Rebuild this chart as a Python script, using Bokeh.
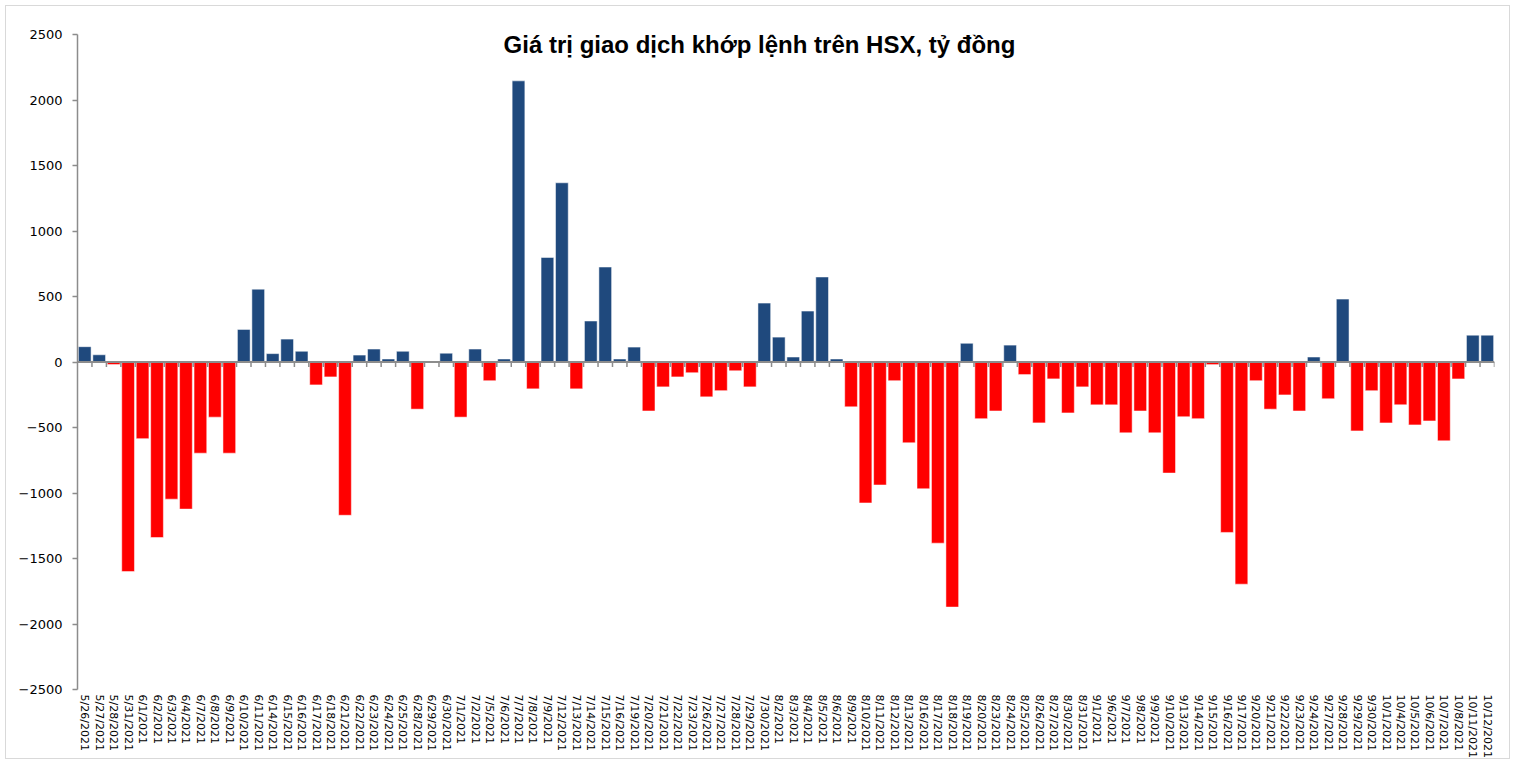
from bokeh.plotting import figure
from bokeh.models import FactorRange, Range1d, FixedTicker, Span, Label, ColumnDataSource
from bokeh.embed import file_html
from bokeh.resources import INLINE
from bokeh.core.properties import value

title_text = "Giá trị giao dịch khớp lệnh trên HSX, tỷ đồng"

dates = [
    "5/26/2021", "5/27/2021", "5/28/2021", "5/31/2021",
    "6/1/2021", "6/2/2021", "6/3/2021", "6/4/2021", "6/7/2021", "6/8/2021", "6/9/2021",
    "6/10/2021", "6/11/2021", "6/14/2021", "6/15/2021", "6/16/2021", "6/17/2021", "6/18/2021",
    "6/21/2021", "6/22/2021", "6/23/2021", "6/24/2021", "6/25/2021", "6/28/2021", "6/29/2021",
    "6/30/2021",
    "7/1/2021", "7/2/2021", "7/5/2021", "7/6/2021", "7/7/2021", "7/8/2021", "7/9/2021",
    "7/12/2021", "7/13/2021", "7/14/2021", "7/15/2021", "7/16/2021", "7/19/2021", "7/20/2021",
    "7/21/2021", "7/22/2021", "7/23/2021", "7/26/2021", "7/27/2021", "7/28/2021", "7/29/2021",
    "7/30/2021",
    "8/2/2021", "8/3/2021", "8/4/2021", "8/5/2021", "8/6/2021", "8/9/2021", "8/10/2021",
    "8/11/2021", "8/12/2021", "8/13/2021", "8/16/2021", "8/17/2021", "8/18/2021", "8/19/2021",
    "8/20/2021", "8/23/2021", "8/24/2021", "8/25/2021", "8/26/2021", "8/27/2021", "8/30/2021",
    "8/31/2021",
    "9/1/2021", "9/6/2021", "9/7/2021", "9/8/2021", "9/9/2021", "9/10/2021", "9/13/2021",
    "9/14/2021", "9/15/2021", "9/16/2021", "9/17/2021", "9/20/2021", "9/21/2021", "9/22/2021",
    "9/23/2021", "9/24/2021", "9/27/2021", "9/28/2021", "9/29/2021", "9/30/2021",
    "10/1/2021", "10/4/2021", "10/5/2021", "10/6/2021", "10/7/2021", "10/8/2021",
    "10/11/2021", "10/12/2021",
]

values = [
    117, 55, -20, -1600, -585, -1340, -1047, -1123, -696, -421,
    -696, 249, 556, 64, 175, 82, -175, -114, -1170, 53,
    99, 23, 82, -360, -5, 67, -421, 99, -143, 23,
    2146, -205, 798, 1368, -205, 313, 725, 23, 114, -374,
    -190, -114, -82, -266, -219, -67, -190, 450, 190, 38,
    389, 649, 23, -342, -1076, -939, -143, -617, -968, -1383,
    -1871, 143, -433, -374, 129, -96, -465, -129, -389, -190,
    -327, -327, -541, -374, -541, -848, -418, -433, -20, -1301,
    -1696, -143, -360, -251, -374, 38, -281, 480, -526, -219,
    -465, -327, -480, -450, -602, -129, 205, 205,
]

y_ticks = [-2500, -2000, -1500, -1000, -500, 0, 500, 1000, 1500, 2000, 2500]

POS = "#1F497D"
NEG = "#FF0000"
GRAY = "#8C8C8C"

colors = [POS if v >= 0 else NEG for v in values]
src = ColumnDataSource(dict(x=dates, top=values, color=colors))

p = figure(
    width=1505, height=754,
    x_range=FactorRange(factors=dates),
    y_range=Range1d(y_ticks[0], y_ticks[-1]),
    output_backend="svg", toolbar_location=None,
    min_border_left=71, min_border_right=17, min_border_top=28, min_border_bottom=0,
)
p.styles = {"border": "1px solid #D9D9D9", "margin-left": "5px", "margin-top": "5px"}

p.vbar(x="x", top="top", bottom=0, width=0.88, fill_color="color",
       line_color="white", line_alpha=0.5, line_width=1, source=src)

# zero line with category boundary ticks
p.add_layout(Span(location=0, dimension="width", line_color=GRAY, line_width=2))
bounds = list(range(1, len(dates) + 1))
p.segment(x0=bounds, x1=bounds, y0=[0] * len(bounds), y1=[-38] * len(bounds),
          line_color=GRAY, line_width=1.5)

p.grid.visible = False
p.outline_line_color = None
p.background_fill_color = "white"
p.border_fill_color = "white"

ya = p.yaxis[0]
ya.ticker = FixedTicker(ticks=y_ticks)
ya.axis_line_color = GRAY
ya.axis_line_width = 1.5
ya.major_tick_line_color = GRAY
ya.major_tick_line_width = 1.5
ya.major_tick_out = 5
ya.major_tick_in = 0
ya.minor_tick_line_color = None
ya.major_label_standoff = 10
ya.major_label_text_font = "DejaVu Sans"
ya.major_label_text_font_size = "13px"
ya.major_label_text_color = "black"

xa = p.xaxis[0]
xa.axis_line_color = None
xa.major_tick_line_color = None
xa.major_tick_out = 0
xa.major_tick_in = 0
xa.minor_tick_line_color = None
xa.major_label_orientation = "vertical"
xa.major_label_standoff = 5
xa.major_label_text_font = "DejaVu Sans"
xa.major_label_text_font_size = "11px"
xa.major_label_text_color = "black"

p.add_layout(Label(x=682, y=2420, x_units="screen", y_units="data", text=title_text,
                   text_font="Liberation Sans", text_font_style="bold",
                   text_font_size="24px", text_align="center", text_baseline="middle",
                   text_color="black"))

open("out.html", "w").write(file_html(p, INLINE))
